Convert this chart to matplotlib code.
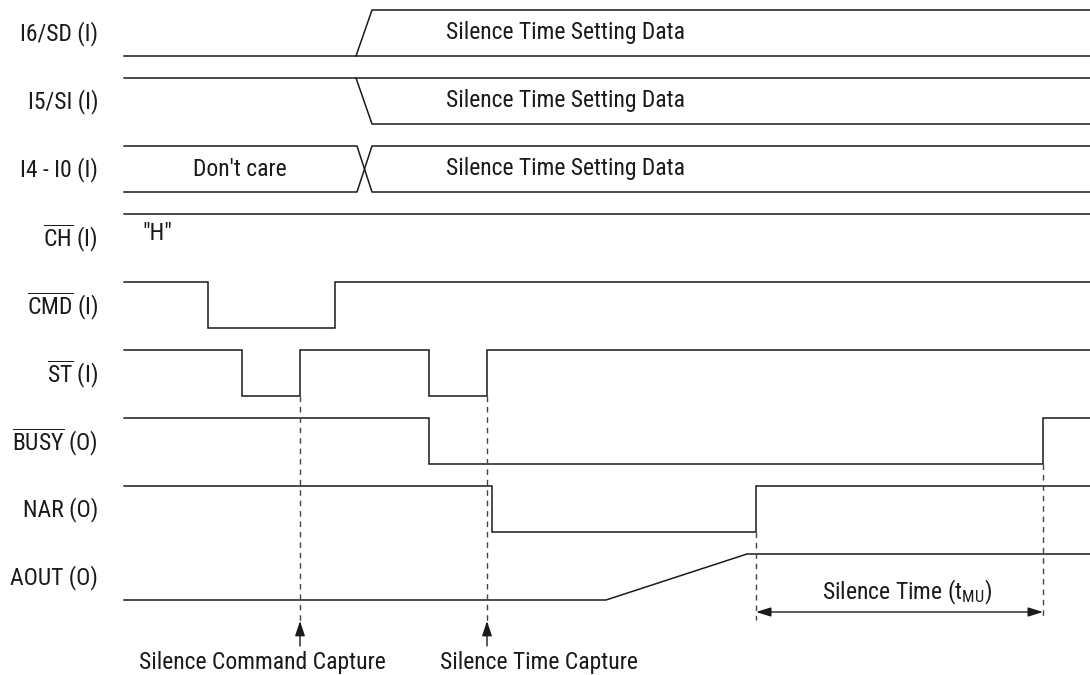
import matplotlib
matplotlib.use("Agg")
from matplotlib import pyplot as plt
from matplotlib import font_manager

# pick a narrow sans if there is one, Roboto otherwise
available = {f.name for f in font_manager.fontManager.ttflist}
FONT_NAME = "Roboto"
for cand in ["Roboto Condensed", "Liberation Sans Narrow", "Roboto"]:
    if cand in available:
        FONT_NAME = cand
        break

plt.rcParams["font.family"] = [FONT_NAME, "DejaVu Sans"]
plt.rcParams["mathtext.fontset"] = "custom"
plt.rcParams["mathtext.rm"] = FONT_NAME
plt.rcParams["mathtext.it"] = FONT_NAME

# signal names (left column)
labels = [
    "I6/SD (I)",
    "I5/SI (I)",
    "I4 - I0 (I)",
    r"$\overline{\mathrm{CH}}$ (I)",
    r"$\overline{\mathrm{CMD}}$ (I)",
    r"$\overline{\mathrm{ST}}$ (I)",
    r"$\overline{\mathrm{BUSY}}$ (O)",
    "NAR (O)",
    "AOUT (O)",
]

# time axis (arbitrary units)
t_start = 124
t_end = 1090

# bus transition (I6..I0)
bus_change = 356
bus_settle = 372
bus_text = "Silence Time Setting Data"
dont_care_text = "Don't care"

# digital edges; each list starts from the given level (1 = high)
cmd_start, cmd_edges = 1, [208, 335]
st_start, st_edges = 1, [242, 300, 429, 487]
busy_start, busy_edges = 1, [429, 1043]
nar_start, nar_edges = 1, [492, 756]

# analog output: ramp from low to high
aout_ramp_start = 606
aout_ramp_end = 747

# capture markers
capture_times = [300, 487]
capture_texts = ["Silence Command Capture", "Silence Time Capture"]

# silence time span
mute_from = 756
mute_to = 1043
mute_text = "Silence Time (t$_\\mathrm{MU}$)"

ROW0 = 10
ROW_STEP = 68
AMP = 46
LC = "#1a1a1a"
LW = 1.1


def hi(i):
    return ROW0 + ROW_STEP * i


def lo(i):
    return hi(i) + AMP


def step_wave(ax, row, start, edges):
    level = start
    xs = [t_start]
    ys = [hi(row) if level else lo(row)]
    for e in edges:
        xs += [e, e]
        ys += [ys[-1]]
        level = 1 - level
        ys += [hi(row) if level else lo(row)]
    xs.append(t_end)
    ys.append(ys[-1])
    ax.plot(xs, ys, color=LC, lw=LW, solid_joinstyle="miter")


fig = plt.figure(figsize=(10.9, 6.75), dpi=100)
ax = fig.add_axes([0, 0, 1, 1])
ax.set_xlim(0, 1090)
ax.set_ylim(675, 0)
ax.axis("off")

FS = 17

for i, lab in enumerate(labels):
    ax.text(98, hi(i) + 24, lab, ha="right", va="center", fontsize=FS, color=LC)

# I6/SD : low -> data
ax.plot([t_start, t_end], [lo(0), lo(0)], color=LC, lw=LW)
ax.plot([bus_change, bus_settle, t_end], [lo(0), hi(0), hi(0)], color=LC, lw=LW)
# I5/SI : high -> data
ax.plot([t_start, t_end], [hi(1), hi(1)], color=LC, lw=LW)
ax.plot([bus_change, bus_settle, t_end], [hi(1), lo(1), lo(1)], color=LC, lw=LW)
# I4-I0 : don't care -> data
ax.plot([t_start, bus_change + 1, bus_settle, t_end], [hi(2), hi(2), lo(2), lo(2)], color=LC, lw=LW)
ax.plot([t_start, bus_change + 1, bus_settle, t_end], [lo(2), lo(2), hi(2), hi(2)], color=LC, lw=LW)
for r in range(3):
    ax.text(565, hi(r) + 23, bus_text, ha="center", va="center", fontsize=FS, color=LC)
ax.text(240, hi(2) + 23, dont_care_text, ha="center", va="center", fontsize=FS, color=LC)

# CH : stays high
ax.plot([t_start, t_end], [hi(3), hi(3)], color=LC, lw=LW)
ax.text(157, hi(3) + 20, '"H"', ha="center", va="center", fontsize=FS, color=LC)

step_wave(ax, 4, cmd_start, cmd_edges)
step_wave(ax, 5, st_start, st_edges)
step_wave(ax, 6, busy_start, busy_edges)
step_wave(ax, 7, nar_start, nar_edges)

# AOUT
ax.plot([t_start, aout_ramp_start, aout_ramp_end, t_end],
        [lo(8), lo(8), hi(8), hi(8)], color=LC, lw=LW)

# capture markers
DC = "#444444"
for t in capture_times:
    ax.plot([t, t], [lo(5), 622], color=DC, lw=1.0, ls=(0, (4, 3.5)))
    ax.annotate("", xy=(t, 621), xytext=(t, 646),
                arrowprops=dict(arrowstyle="-|>,head_length=0.9,head_width=0.3",
                                color=LC, lw=1.0, shrinkA=0, shrinkB=0))
ax.text(262, 662, capture_texts[0], ha="center", va="center", fontsize=FS, color=LC)
ax.text(539, 662, capture_texts[1], ha="center", va="center", fontsize=FS, color=LC)

# silence time span
ax.plot([mute_from, mute_from], [lo(7), 620], color=DC, lw=1.0, ls=(0, (4, 3.5)))
ax.plot([mute_to, mute_to], [lo(6), 620], color=DC, lw=1.0, ls=(0, (4, 3.5)))
ax.annotate("", xy=(mute_from, 612), xytext=(mute_to, 612),
            arrowprops=dict(arrowstyle="<|-|>,head_length=0.9,head_width=0.28",
                            color=LC, lw=1.0, shrinkA=0, shrinkB=0))
ax.text(907, 592, mute_text, ha="center", va="center", fontsize=FS, color=LC)

fig.savefig("out.png", dpi=100)
